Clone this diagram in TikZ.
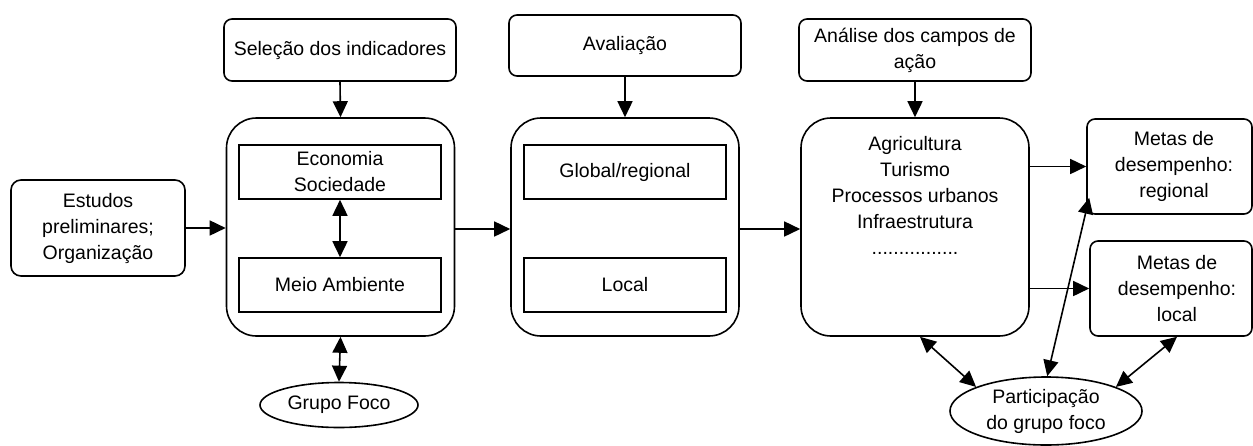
\documentclass[tikz,border=0pt]{standalone}
\usepackage{fontspec}
\setmainfont{Liberation Sans}
\usetikzlibrary{arrows.meta,shapes.geometric,calc}
\begin{document}
\begin{tikzpicture}[x=1pt,y=-1pt,
  font=\fontsize{19.5}{26}\selectfont,
  every node/.style={inner sep=0pt,align=center},
  smallbox/.style={draw,line width=1.6pt,rounded corners=8pt},
  bigbox/.style={draw,line width=1.6pt,rounded corners=30pt,minimum width=228pt,minimum height=218pt},
  innerbox/.style={draw,line width=1.6pt,minimum width=202pt,minimum height=54pt},
  oval/.style={draw,line width=1.6pt,ellipse},
  tip/.tip={Triangle[length=16pt,width=15pt]},
  flow/.style={line width=1.6pt,-tip},
  twoway/.style={line width=1.6pt,tip-tip}]
\useasboundingbox (0,0) rectangle (1253,445);

% first column: indicators
\node[smallbox,minimum width=232pt,minimum height=62pt] (sel) at (340,50) {Seleção dos indicadores};
\node[bigbox] (big1) at (340.5,227) {};
\node[innerbox] (eco) at (340,172) {Economia\\Sociedade};
\node[innerbox] (meio) at (340,285) {Meio Ambiente};
\node[smallbox,rounded corners=10pt,minimum width=174pt,minimum height=96pt] (est) at (98,228) {Estudos\\preliminares;\\Organização};
\node[oval,minimum width=158pt,minimum height=45pt] (grupo) at (339,405) {Grupo Foco};

% second column: evaluation
\node[smallbox,minimum width=232pt,minimum height=61pt] (aval) at (625,45.5) {Avaliação};
\node[bigbox] (big2) at (625,227) {};
\node[innerbox] (glob) at (625,172) {Global/regional};
\node[innerbox] (loc) at (625,285) {Local};

% third column: fields of action
\node[smallbox,minimum width=232pt,minimum height=62pt] (anal) at (915,50) {Análise dos campos de\\ação};
\node[bigbox] (big3) at (915,227) {};
\node (big3txt) at (915,195) {Agricultura\\Turismo\\Processos urbanos\\Infraestrutura\\................};

% targets and participation
\node[smallbox,minimum width=165pt,minimum height=95pt] (mreg) at (1169.5,166.5) {};
\node (mregtxt) at (1174,166.5) {Metas de\\desempenho:\\regional};
\node[smallbox,minimum width=162pt,minimum height=95pt] (mloc) at (1171,288.5) {};
\node (mloctxt) at (1177,288.5) {Metas de\\desempenho:\\local};
\node[oval,minimum width=192pt,minimum height=68pt] (part) at (1046,411) {Participação\\do grupo foco};

% connectors
\draw[flow] (sel.south) -- (big1.north);
\draw[flow] (aval.south) -- (big2.north);
\draw[flow] (anal.south) -- (big3.north);
\draw[flow] (est.east) -- (est.east -| big1.west);
\draw[flow] ($(big1.east)+(0,2)$) -- ($(big2.west)+(0,2)$);
\draw[flow] ($(big2.east)+(0,2)$) -- ($(big3.west)+(0,2)$);
\draw[twoway] (eco.south) -- (meio.north);
\draw[twoway] (big1.south) -- (grupo.north);
\draw[flow] (mreg.west -| big3.east) -- (mreg.west);
\draw[flow] (mloc.west -| big3.east) -- (mloc.west);
\draw[twoway] ($(big3.south)+(5,0)$) -- (part.161);
\draw[twoway] ($(mreg.south west)+(3,-17)$) -- (part.88);
\draw[twoway] ($(mloc.south)+(6,0)$) -- (part.19);
\end{tikzpicture}
\end{document}
